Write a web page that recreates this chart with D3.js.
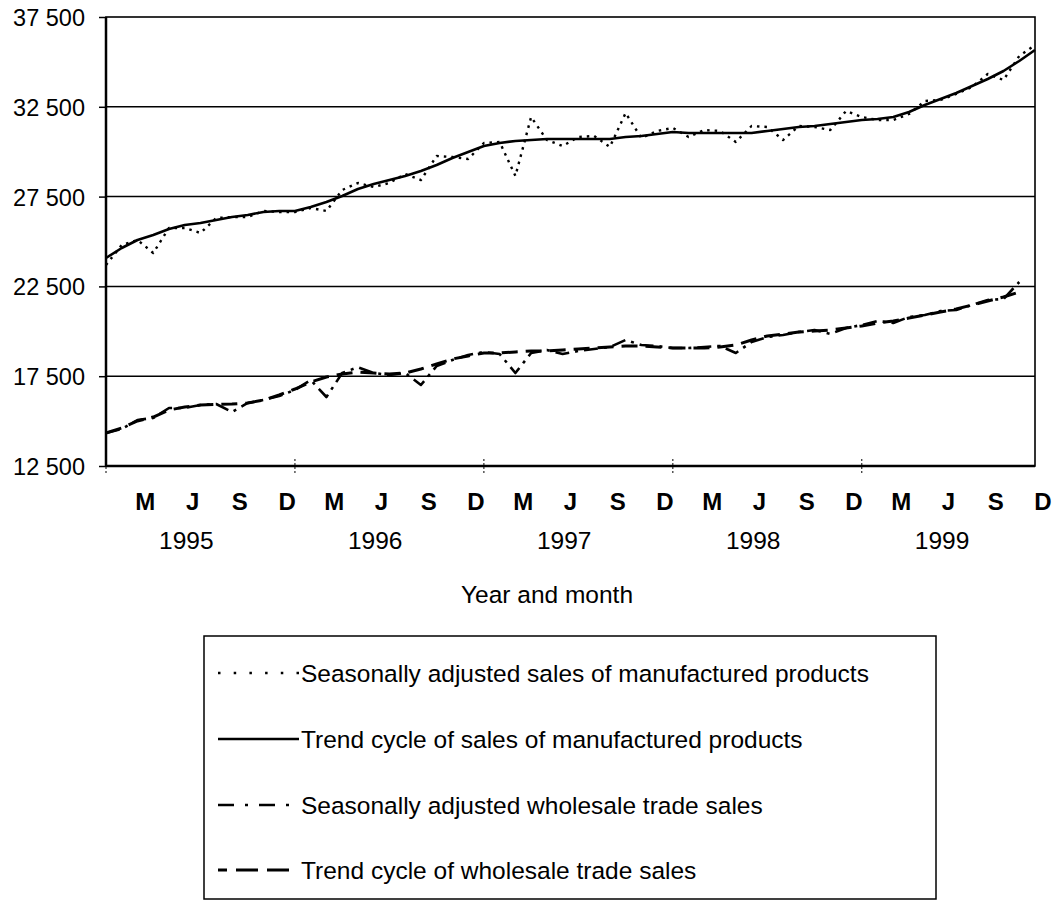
<!DOCTYPE html>
<html>
<head>
<meta charset="utf-8">
<script src="https://cdn.jsdelivr.net/npm/d3@7"></script>
<style>
  html, body { margin: 0; padding: 0; background: #fff; }
  svg { display: block; }
  text { font-family: "Liberation Sans", Arial, sans-serif; fill: #000; }
</style>
</head>
<body>
<svg id="chart" width="1057" height="901"></svg>
<script>
// ---- Data (Jan 1995 .. Dec 1999, monthly) ----
const yearLabels = ["1995", "1996", "1997", "1998", "1999"];
const monthLetters = ["M", "J", "S", "D"];
const monthLetterIndex = [2, 5, 8, 11];
const yTicks = [12500, 17500, 22500, 27500, 32500, 37500];

const saManufactured = [
  23692, 24805, 25084, 24360, 25752, 25752, 25473, 26309, 26364, 26364, 26698, 26643,
  26643, 26865, 26698, 27868, 28257, 28035, 28257, 28759, 28424, 29761, 29705, 29594,
  30485, 30540, 28647, 31932, 30652, 30318, 30819, 30874, 30262, 32155, 30763, 31153,
  31320, 30819, 31208, 31153, 30540, 31431, 31376, 30652, 31431, 31376, 31208, 32266,
  31932, 31765, 31765, 32099, 32823, 32879, 33213, 33603, 34327, 33992, 35329, 35941
];
const trendManufactured = [
  24081, 24638, 25084, 25362, 25696, 25919, 26030, 26197, 26364, 26476, 26643, 26698,
  26698, 26921, 27200, 27534, 27923, 28202, 28424, 28647, 28926, 29260, 29649, 29984,
  30318, 30485, 30596, 30652, 30707, 30707, 30707, 30707, 30707, 30819, 30874, 30986,
  31097, 31041, 31041, 31041, 31041, 31041, 31153, 31264, 31376, 31431, 31543, 31654,
  31765, 31821, 31932, 32211, 32600, 32935, 33269, 33658, 34048, 34494, 35050, 35663
];
const saWholesale = [
  14337, 14560, 15061, 15173, 15729, 15729, 15896, 15952, 15507, 16008, 16175, 16398,
  16732, 17288, 16342, 17678, 18000, 17678, 17567, 17678, 17010, 18068, 18402, 18680,
  18848, 18736, 17678, 18792, 18959, 18736, 18903, 19015, 19126, 19516, 19237, 19182,
  19070, 19070, 19126, 19182, 18792, 19404, 19683, 19794, 19961, 20072, 19850, 20184,
  20351, 20574, 20462, 20796, 20908, 21130, 21186, 21464, 21743, 21799, 22745
];
const trendWholesale = [
  14337, 14616, 15006, 15228, 15618, 15785, 15896, 15924, 15952, 16008, 16175, 16453,
  16787, 17177, 17456, 17623, 17734, 17678, 17623, 17678, 17901, 18179, 18458, 18625,
  18792, 18792, 18848, 18903, 18903, 18959, 19015, 19070, 19126, 19182, 19182, 19126,
  19070, 19070, 19070, 19126, 19237, 19516, 19738, 19850, 19961, 20017, 20072, 20184,
  20295, 20462, 20574, 20741, 20908, 21075, 21242, 21464, 21687, 21910, 22188
];

const legendLabels = [
  "Seasonally adjusted sales of manufactured products",
  "Trend cycle of sales of manufactured products",
  "Seasonally adjusted wholesale trade sales",
  "Trend cycle of wholesale trade sales"
];

// ---- Layout ----
const svg = d3.select("#chart");
const L = 106, R = 1035, T = 17, B = 466;
const nMonths = 60;

const x = d3.scaleLinear().domain([0, nMonths - 1]).range([L, R]);
const y = d3.scaleLinear().domain([12500, 37500]).range([B, T]);

const fmt = d3.formatLocale({ decimal: ".", thousands: " ", grouping: [3], currency: ["", ""] }).format(",");

// gridlines
svg.append("g").selectAll("line").data(yTicks.slice(1, -1)).join("line")
  .attr("x1", L).attr("x2", R)
  .attr("y1", d => y(d)).attr("y2", d => y(d))
  .attr("stroke", "#000").attr("stroke-width", 1.5);

// plot frame
svg.append("rect").attr("x", L).attr("y", T).attr("width", R - L).attr("height", B - T)
  .attr("fill", "none").attr("stroke", "#000").attr("stroke-width", 1.6);
svg.append("line").attr("x1", L).attr("x2", L).attr("y1", T).attr("y2", B)
  .attr("stroke", "#000").attr("stroke-width", 2.5);
svg.append("line").attr("x1", L).attr("x2", R).attr("y1", B).attr("y2", B)
  .attr("stroke", "#000").attr("stroke-width", 2.5);

// y axis
const yAxis = d3.axisLeft(y).tickValues(yTicks).tickSize(7).tickPadding(14).tickFormat(fmt);
const gy = svg.append("g").attr("transform", `translate(${L},0)`).call(yAxis);
gy.select(".domain").remove();
gy.selectAll(".tick line").attr("stroke", "#000").attr("stroke-width", 1.5);
gy.selectAll(".tick text").attr("font-size", 23.5).attr("dy", "0.36em")
  .style("font-family", '"Liberation Sans", Arial, sans-serif');

// x ticks at year boundaries
const yearStarts = yearLabels.map((d, k) => k * 12);
svg.append("g").selectAll("line").data(yearStarts).join("line")
  .attr("x1", d => x(d)).attr("x2", d => x(d))
  .attr("y1", B - 7).attr("y2", B + 7)
  .attr("stroke", "#000").attr("stroke-width", 1).attr("stroke-dasharray", "2,2");

// month letters
const monthPos = [];
yearLabels.forEach((yl, k) => monthLetters.forEach((m, j) => monthPos.push({ m, idx: k * 12 + monthLetterIndex[j] })));
svg.append("g").selectAll("text").data(monthPos).join("text")
  .attr("x", d => x(d.idx + 0.5)).attr("y", 510)
  .attr("text-anchor", "middle").attr("font-size", 24).attr("font-weight", "bold")
  .text(d => d.m);

// year labels
svg.append("g").selectAll("text").data(yearLabels).join("text")
  .attr("x", (d, k) => x(k * 12 + 5.1)).attr("y", 549)
  .attr("text-anchor", "middle").attr("font-size", 24.5)
  .text(d => d);

// axis title
svg.append("text").attr("x", 547).attr("y", 603).attr("text-anchor", "middle")
  .attr("font-size", 24.5).text("Year and month");

// ---- Series ----
const line = d3.line().x((d, i) => x(i)).y(d => y(d));
const styles = [
  { data: saManufactured, dash: "2.5,5", legendDash: "2.5,13.2", legendOffset: 0, legendEnd: 299, w: 2.4 },
  { data: trendManufactured, dash: null, legendDash: null, legendOffset: 0, legendEnd: 299, w: 2.6 },
  { data: saWholesale, dash: "14,6,3,6", legendDash: "16,11,3,11", legendOffset: 0, legendEnd: 290, w: 2.6 },
  { data: trendWholesale, dash: "16,8", legendDash: "22,9", legendOffset: 13, legendEnd: 290, w: 3 }
];
styles.forEach(s => {
  svg.append("path").datum(s.data).attr("d", line)
    .attr("fill", "none").attr("stroke", "#000").attr("stroke-width", s.w)
    .attr("stroke-dasharray", s.dash).attr("stroke-linejoin", "round");
});

// ---- Legend ----
const lg = svg.append("g");
lg.append("rect").attr("x", 204).attr("y", 636).attr("width", 732).attr("height", 263)
  .attr("fill", "none").attr("stroke", "#000").attr("stroke-width", 1.5);
const legendRowsY = [673, 739, 805, 870];
legendLabels.forEach((lab, i) => {
  lg.append("line").attr("x1", 218).attr("x2", styles[i].legendEnd)
    .attr("y1", legendRowsY[i]).attr("y2", legendRowsY[i])
    .attr("stroke", "#000").attr("stroke-width", styles[i].w)
    .attr("stroke-dasharray", styles[i].legendDash)
    .attr("stroke-dashoffset", styles[i].legendOffset);
  lg.append("text").attr("x", 301).attr("y", legendRowsY[i] + 8.5)
    .attr("font-size", 24.5).text(lab);
});
</script>
</body>
</html>
